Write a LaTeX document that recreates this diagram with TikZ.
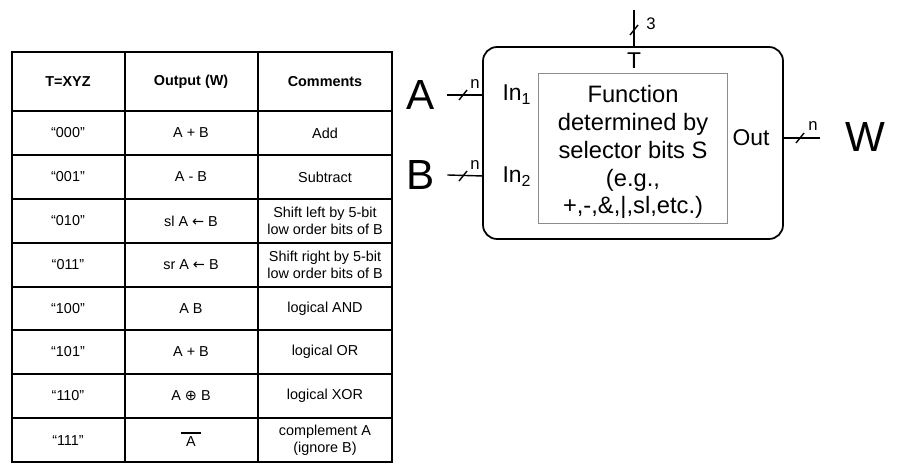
\documentclass[tikz,border=0pt]{standalone}
\usepackage{fontspec}
\setmainfont{Liberation Sans}
\newfontfamily\symfont{DejaVu Sans}
\usetikzlibrary{positioning,calc}

\tikzset{
  cell/.style={inner sep=0pt, align=center, font=\fontsize{8.2}{9.6}\selectfont},
  head/.style={cell, font=\fontsize{8.2}{9.6}\selectfont\bfseries},
  big/.style={inner sep=0pt, font=\fontsize{24}{26}\selectfont},
  port/.style={inner sep=0pt, font=\fontsize{13}{15}\selectfont},
  wire/.style={line width=0.8pt},
  bus/.style={inner sep=0pt, font=\fontsize{9.5}{10}\selectfont}
}
\newcommand{\busmark}[1]{\draw[wire] ($(#1)+(-4,5)$) -- ($(#1)+(4,-5)$);}

\begin{document}
\begin{tikzpicture}[x=0.02cm, y=-0.02cm]
    \useasboundingbox (0,0) rectangle (898,475);

    % table
    \draw[line width=1.6pt] (12,52) rectangle (392,462);
    \foreach \y in {111,155,199,243,287,330,374,418}
        \draw[line width=1.2pt] (12,\y) -- (392,\y);
    \foreach \x in {125,258}
        \draw[line width=1.6pt] (\x,52) -- (\x,462);

    \node[head] (h1) at (68,82) {T=XYZ};
    \node[head] (h2) at (191,82) {Output (W)};
    \node[head] (h3) at (325,82) {Comments};

    \node[cell] (t1) at (68,133) {“000”};
    \node[cell] (o1) at (191,133) {A + B};
    \node[cell] (c1) at (325,133) {Add};
    \node[cell] (t2) at (68,177) {“001”};
    \node[cell] (o2) at (191,177) {A - B};
    \node[cell] (c2) at (325,177) {Subtract};
    \node[cell] (t3) at (68,221) {“010”};
    \node[cell] (o3) at (191,221) {sl A {\symfont ←} B};
    \node[cell] (c3) at (325,221) {Shift left by 5-bit\\low order bits of B};
    \node[cell] (t4) at (68,265) {“011”};
    \node[cell] (o4) at (191,265) {sr A {\symfont ←} B};
    \node[cell] (c4) at (325,265) {Shift right by 5-bit\\low order bits of B};
    \node[cell] (t5) at (68,309) {“100”};
    \node[cell] (o5) at (191,309) {A B};
    \node[cell] (c5) at (325,309) {logical AND};
    \node[cell] (t6) at (68,352) {“101”};
    \node[cell] (o6) at (191,352) {A + B};
    \node[cell] (c6) at (325,352) {logical OR};
    \node[cell] (t7) at (68,396) {“110”};
    \node[cell] (o7) at (191,396) {A {\symfont ⊕} B};
    \node[cell] (c7) at (325,396) {logical XOR};
    \node[cell] (t8) at (68,441) {“111”};
    \node[cell] (o8) at (191,442) {A};
    \node[cell] (c8) at (325,440) {complement A\\(ignore B)};
    \draw[line width=0.8pt] ([xshift=-3pt,yshift=2pt]o8.north west) -- ([xshift=3pt,yshift=2pt]o8.north east);

    % functional unit
    \draw[line width=1pt, rounded corners=8pt] (483,47) rectangle (783,239);
    \draw[black!45] (538,73) rectangle (727,223);
    \node[port, align=center, font=\fontsize{13.5}{15.9}\selectfont] (func) at (633,152)
        {Function\\determined by\\selector bits S\\(e.g.,\\+,-,\&,|,sl,etc.)};

    \node[port] (tsel) at (634,61) {T};
    \node[port] (in1) at (517,95) {In\textsubscript{1}};
    \node[port] (in2) at (517,177) {In\textsubscript{2}};
    \node[port] (out) at (751,138) {Out};
    \node[big] (a) at (421,95) {A};
    \node[big] (b) at (421,175) {B};
    \node[big] (w) at (865,137) {W};

    \coordinate (ttop) at (634,10);
    \coordinate (tbot) at (634,47);
    \coordinate (ain) at (483,95);
    \coordinate (bin) at (483,176);
    \coordinate (wout) at (783,138);

    \draw[wire] (ttop) -- (tbot);
    \draw[wire] (a.east) ++(12,0) coordinate (a1) -- (ain);
    \draw[wire] (b.east) ++(12,0) coordinate (b1) -- (bin);
    \draw[wire] (wout) -- ++(37,0) coordinate (w1);

    \busmark{634,30}
    \busmark{463,95}
    \busmark{463,176}
    \busmark{800,138}

    \node[bus] (n3) at (651,24) {3};
    \node[bus] (na) at (475,84) {n};
    \node[bus] (nb) at (475,165) {n};
    \node[bus] (nw) at (813,126) {n};
\end{tikzpicture}
\end{document}
